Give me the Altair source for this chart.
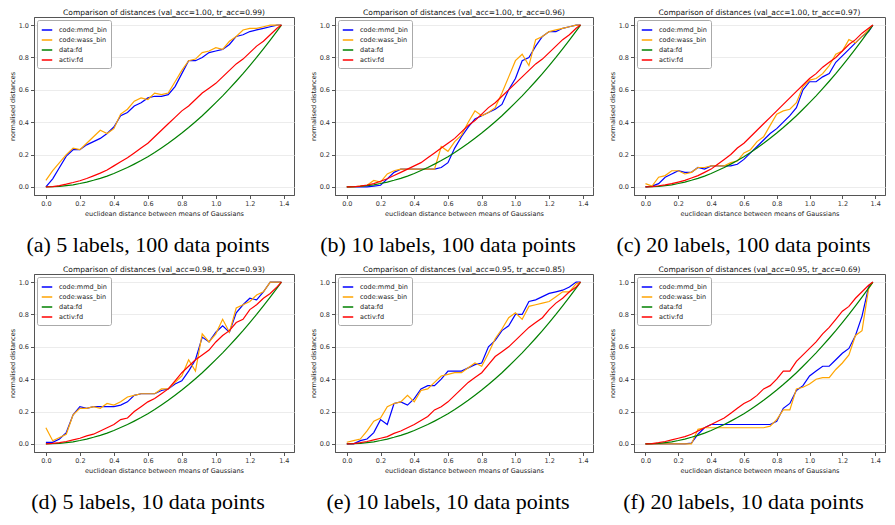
import altair as alt
import pandas as pd

# shared x grid (euclidean distance between means of Gaussians)
X = [0.00, 0.04, 0.08, 0.12, 0.16, 0.20, 0.24, 0.28, 0.32, 0.36, 0.40, 0.44,
     0.48, 0.52, 0.56, 0.60, 0.64, 0.68, 0.72, 0.76, 0.80, 0.84, 0.88, 0.92,
     0.96, 1.00, 1.04, 1.08, 1.12, 1.16, 1.20, 1.24, 1.28, 1.32, 1.36, 1.386]

XTICKS = [0.0, 0.2, 0.4, 0.6, 0.8, 1.0, 1.2, 1.4]
YTICKS = [0.0, 0.2, 0.4, 0.6, 0.8, 1.0]

SERIES = ["code:mmd_bin", "code:wass_bin", "data:fd", "activ:fd"]
COLORS = ["#0000ff", "#ffa500", "#008000", "#ff0000"]

# data:fd (same in every panel)
GREEN = [0.000, 0.001, 0.003, 0.008, 0.013, 0.021, 0.030, 0.041, 0.053, 0.067, 0.083, 0.101,
         0.120, 0.141, 0.163, 0.187, 0.213, 0.241, 0.270, 0.301, 0.333, 0.367, 0.403, 0.440,
         0.480, 0.521, 0.563, 0.607, 0.653, 0.700, 0.750, 0.800, 0.853, 0.907, 0.963, 1.000]

# (a)
MMD_A = [0.00, 0.05, 0.12, 0.19, 0.23, 0.23, 0.26, 0.28, 0.30, 0.33, 0.37, 0.44,
         0.46, 0.50, 0.52, 0.55, 0.56, 0.56, 0.57, 0.62, 0.70, 0.78, 0.78, 0.80,
         0.83, 0.84, 0.85, 0.88, 0.93, 0.94, 0.96, 0.97, 0.98, 0.99, 1.00, 1.00]
WASS_A = [0.04, 0.10, 0.15, 0.20, 0.24, 0.23, 0.27, 0.31, 0.35, 0.33, 0.36, 0.45,
          0.48, 0.53, 0.55, 0.54, 0.58, 0.57, 0.58, 0.65, 0.72, 0.78, 0.79, 0.83,
          0.84, 0.86, 0.85, 0.90, 0.93, 0.97, 0.98, 0.98, 0.99, 1.00, 1.00, 1.00]
RED_A = [0.000, 0.002, 0.008, 0.017, 0.027, 0.038, 0.052, 0.068, 0.085, 0.105, 0.13, 0.155,
         0.18, 0.21, 0.24, 0.27, 0.31, 0.35, 0.39, 0.43, 0.47, 0.50, 0.54, 0.58,
         0.61, 0.64, 0.68, 0.72, 0.76, 0.79, 0.83, 0.87, 0.90, 0.94, 0.98, 1.00]

# (b)
MMD_B = [0.00, 0.00, 0.00, 0.00, 0.005, 0.01, 0.05, 0.09, 0.11, 0.11, 0.11, 0.11,
         0.11, 0.11, 0.12, 0.15, 0.24, 0.31, 0.37, 0.42, 0.44, 0.46, 0.48, 0.51,
         0.60, 0.67, 0.78, 0.80, 0.87, 0.93, 0.96, 0.96, 0.98, 0.99, 1.00, 1.00]
WASS_B = [0.00, 0.00, 0.005, 0.01, 0.04, 0.03, 0.08, 0.10, 0.11, 0.11, 0.11, 0.11,
          0.11, 0.11, 0.25, 0.22, 0.28, 0.32, 0.40, 0.47, 0.44, 0.46, 0.49, 0.58,
          0.68, 0.78, 0.82, 0.75, 0.91, 0.93, 0.96, 0.97, 0.98, 0.99, 1.00, 1.00]
RED_B = [0.000, 0.001, 0.005, 0.012, 0.02, 0.035, 0.05, 0.07, 0.09, 0.11, 0.13, 0.15,
         0.18, 0.21, 0.24, 0.27, 0.30, 0.34, 0.38, 0.41, 0.45, 0.49, 0.52, 0.56,
         0.60, 0.64, 0.68, 0.72, 0.76, 0.79, 0.83, 0.87, 0.91, 0.94, 0.98, 1.00]

# (c)
MMD_C = [0.00, 0.005, 0.02, 0.06, 0.08, 0.10, 0.09, 0.09, 0.12, 0.11, 0.13, 0.13,
         0.13, 0.13, 0.14, 0.17, 0.21, 0.25, 0.29, 0.33, 0.36, 0.40, 0.44, 0.49,
         0.60, 0.65, 0.65, 0.68, 0.70, 0.77, 0.81, 0.85, 0.89, 0.93, 0.96, 1.00]
WASS_C = [0.02, 0.005, 0.06, 0.07, 0.10, 0.10, 0.08, 0.09, 0.12, 0.12, 0.13, 0.13,
          0.13, 0.15, 0.16, 0.21, 0.23, 0.28, 0.31, 0.38, 0.45, 0.47, 0.48, 0.52,
          0.62, 0.66, 0.67, 0.70, 0.75, 0.82, 0.84, 0.91, 0.89, 0.93, 0.97, 1.00]
RED_C = [0.000, 0.002, 0.007, 0.013, 0.02, 0.03, 0.04, 0.055, 0.07, 0.09, 0.11, 0.14,
         0.17, 0.20, 0.24, 0.27, 0.31, 0.35, 0.39, 0.43, 0.47, 0.51, 0.55, 0.59,
         0.63, 0.67, 0.70, 0.74, 0.77, 0.80, 0.84, 0.88, 0.91, 0.95, 0.98, 1.00]

# (d)
MMD_D = [0.01, 0.01, 0.03, 0.07, 0.18, 0.23, 0.22, 0.23, 0.23, 0.23, 0.23, 0.24,
         0.26, 0.30, 0.31, 0.31, 0.31, 0.33, 0.34, 0.37, 0.39, 0.45, 0.52, 0.66,
         0.63, 0.69, 0.73, 0.69, 0.81, 0.86, 0.90, 0.89, 0.94, 1.00, 1.00, 1.00]
WASS_D = [0.10, 0.02, 0.04, 0.06, 0.18, 0.22, 0.22, 0.23, 0.22, 0.25, 0.24, 0.26,
          0.29, 0.30, 0.31, 0.31, 0.31, 0.34, 0.34, 0.38, 0.42, 0.52, 0.45, 0.68,
          0.63, 0.68, 0.77, 0.69, 0.84, 0.86, 0.88, 0.92, 0.94, 1.00, 1.00, 1.00]
RED_D = [0.000, 0.003, 0.008, 0.015, 0.025, 0.035, 0.05, 0.06, 0.08, 0.10, 0.12, 0.15,
         0.16, 0.20, 0.23, 0.26, 0.28, 0.31, 0.34, 0.39, 0.44, 0.48, 0.52, 0.55,
         0.58, 0.63, 0.67, 0.70, 0.75, 0.77, 0.83, 0.86, 0.90, 0.93, 0.97, 1.00]

# (e)
MMD_E = [0.00, 0.00, 0.02, 0.03, 0.07, 0.15, 0.12, 0.25, 0.26, 0.24, 0.28, 0.34,
         0.36, 0.36, 0.40, 0.45, 0.45, 0.45, 0.47, 0.49, 0.50, 0.60, 0.64, 0.70,
         0.73, 0.80, 0.80, 0.88, 0.89, 0.91, 0.93, 0.94, 0.95, 0.97, 1.00, 1.00]
WASS_E = [0.01, 0.02, 0.03, 0.08, 0.14, 0.16, 0.23, 0.25, 0.26, 0.30, 0.26, 0.33,
          0.34, 0.38, 0.42, 0.43, 0.44, 0.44, 0.47, 0.50, 0.48, 0.56, 0.65, 0.71,
          0.78, 0.81, 0.77, 0.85, 0.86, 0.87, 0.88, 0.91, 0.94, 0.94, 0.99, 1.00]
RED_E = [0.000, 0.002, 0.008, 0.015, 0.025, 0.035, 0.045, 0.065, 0.08, 0.10, 0.12, 0.145,
         0.17, 0.21, 0.23, 0.26, 0.30, 0.34, 0.38, 0.41, 0.44, 0.49, 0.54, 0.57,
         0.60, 0.64, 0.68, 0.72, 0.75, 0.78, 0.83, 0.87, 0.90, 0.94, 0.97, 1.00]

# (f)
MMD_F = [0.00, 0.00, 0.00, 0.00, 0.00, 0.00, 0.00, 0.005, 0.06, 0.10, 0.12, 0.12,
         0.12, 0.12, 0.12, 0.12, 0.12, 0.12, 0.12, 0.12, 0.14, 0.22, 0.25, 0.33,
         0.36, 0.42, 0.45, 0.48, 0.48, 0.52, 0.56, 0.59, 0.67, 0.79, 0.97, 1.00]
WASS_F = [0.00, 0.00, 0.00, 0.00, 0.00, 0.00, 0.00, 0.00, 0.09, 0.10, 0.10, 0.10,
          0.10, 0.10, 0.10, 0.10, 0.10, 0.10, 0.10, 0.11, 0.15, 0.21, 0.21, 0.34,
          0.35, 0.37, 0.40, 0.41, 0.41, 0.46, 0.50, 0.55, 0.67, 0.70, 0.96, 1.00]
RED_F = [0.000, 0.002, 0.008, 0.015, 0.025, 0.035, 0.045, 0.06, 0.08, 0.10, 0.12, 0.14,
         0.16, 0.19, 0.22, 0.25, 0.27, 0.30, 0.34, 0.36, 0.40, 0.45, 0.45, 0.51,
         0.55, 0.59, 0.63, 0.68, 0.72, 0.77, 0.82, 0.85, 0.90, 0.94, 0.98, 1.00]

TITLES = [
    "Comparison of distances (val_acc=1.00, tr_acc=0.99)",
    "Comparison of distances (val_acc=1.00, tr_acc=0.96)",
    "Comparison of distances (val_acc=1.00, tr_acc=0.97)",
    "Comparison of distances (val_acc=0.98, tr_acc=0.93)",
    "Comparison of distances (val_acc=0.95, tr_acc=0.85)",
    "Comparison of distances (val_acc=0.95, tr_acc=0.69)",
]
CAPTIONS = [
    "(a) 5 labels, 100 data points",
    "(b) 10 labels, 100 data points",
    "(c) 20 labels, 100 data points",
    "(d) 5 labels, 10 data points",
    "(e) 10 labels, 10 data points",
    "(f) 20 labels, 10 data points",
]
MMD = [MMD_A, MMD_B, MMD_C, MMD_D, MMD_E, MMD_F]
WASS = [WASS_A, WASS_B, WASS_C, WASS_D, WASS_E, WASS_F]
ACTIV = [RED_A, RED_B, RED_C, RED_D, RED_E, RED_F]

WIDTHS = [260, 258, 251]
H = 178


def panel(i, w):
    rows = []
    for name, ys in zip(SERIES, [MMD[i], WASS[i], GREEN, ACTIV[i]]):
        for xv, yv in zip(X, ys):
            rows.append({"x": xv, "y": yv, "series": name})
    df = pd.DataFrame(rows)
    color = alt.Color(
        "series:N",
        scale=alt.Scale(domain=SERIES, range=COLORS),
        legend=alt.Legend(title=None, orient="top-left"),
    )
    xenc = alt.X("x:Q",
                 scale=alt.Scale(domain=[-0.07, 1.46], nice=False, zero=False),
                 axis=alt.Axis(values=XTICKS, format=".1f", grid=False,
                               title="euclidean distance between means of Gaussians"))
    yenc = alt.Y("y:Q",
                 scale=alt.Scale(domain=[-0.05, 1.05], nice=False, zero=False),
                 axis=alt.Axis(values=YTICKS, format=".1f", grid=True,
                               title="normalised distances"))
    layers = []
    for name in SERIES:
        layers.append(
            alt.Chart(df).transform_filter(alt.datum.series == name)
            .mark_line(strokeWidth=1.2)
            .encode(x=xenc, y=yenc, color=color)
        )
    cap = alt.Chart(pd.DataFrame({"c": [CAPTIONS[i]]})).mark_text(
        font="Liberation Serif", fontSize=22, color="black",
        align="center", baseline="middle"
    ).encode(x=alt.value(w / 2 - 16), y=alt.value(H + 50), text="c:N")
    return alt.layer(*layers, cap).properties(
        width=w, height=H,
        title=alt.TitleParams(TITLES[i], fontSize=7.5, font="DejaVu Sans",
                              fontWeight="normal", color="#111", offset=1),
    )


row1 = alt.hconcat(*[panel(j, WIDTHS[j]) for j in range(3)], spacing=14) \
    .resolve_scale(color="independent").resolve_legend(color="independent")
row2 = alt.hconcat(*[panel(3 + j, WIDTHS[j]) for j in range(3)], spacing=14) \
    .resolve_scale(color="independent").resolve_legend(color="independent")

chart = alt.vconcat(row1, row2, spacing=8) \
    .resolve_scale(color="independent").resolve_legend(color="independent") \
    .properties(padding={"left": 0, "top": 0, "right": 0, "bottom": 0}) \
    .configure_view(stroke="#555", strokeWidth=1) \
    .configure_axis(labelFont="DejaVu Sans", titleFont="DejaVu Sans",
                    labelFontSize=6.5, titleFontSize=6.5, titleFontWeight="normal",
                    labelColor="#333", titleColor="#222",
                    domainColor="#555", tickColor="#555", tickSize=3.5,
                    gridColor="#ececec", labelPadding=2, titlePadding=3) \
    .configure_legend(labelFont="DejaVu Sans", labelFontSize=6.5, labelColor="#222",
                      symbolType="stroke", symbolStrokeWidth=1.5, symbolSize=110,
                      rowPadding=0, padding=4, offset=3,
                      strokeColor="#aaaaaa", fillColor="white", cornerRadius=2,
                      labelOffset=6)

chart.save("out.html", embed_options={"renderer": "svg", "actions": False})
